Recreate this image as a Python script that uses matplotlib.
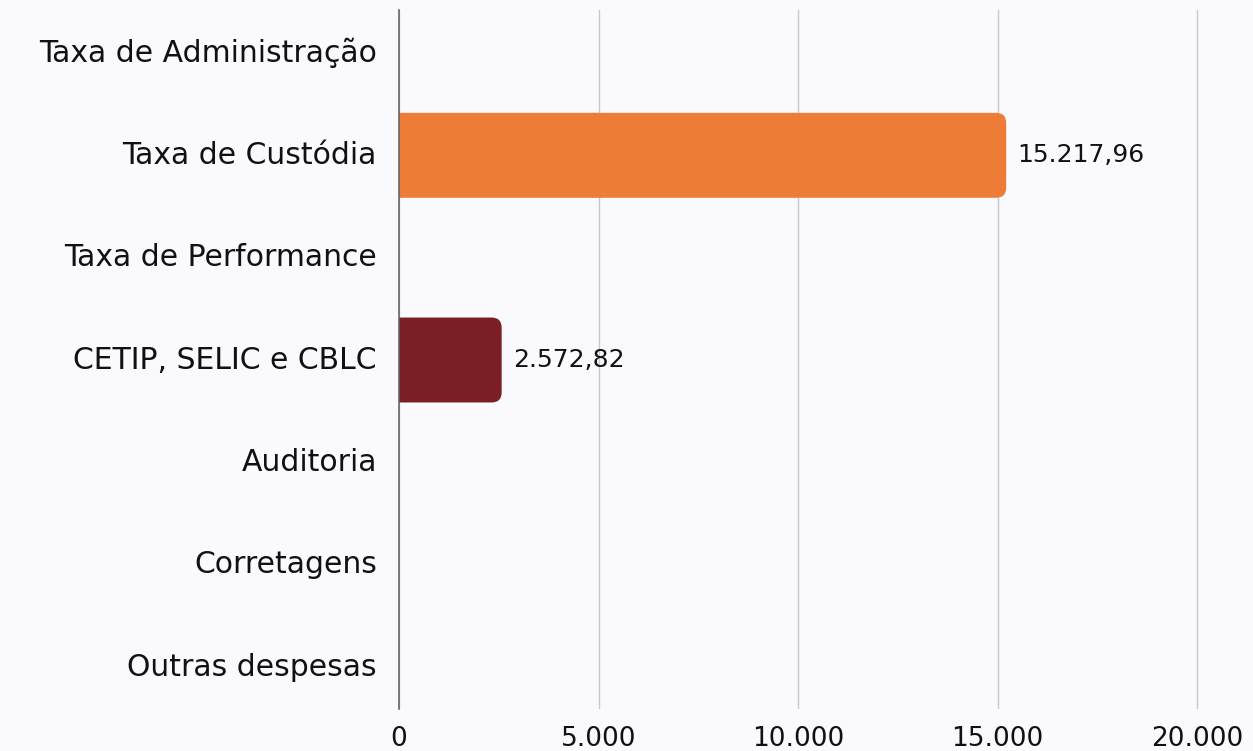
import matplotlib
matplotlib.use("Agg")
import matplotlib.pyplot as plt
from matplotlib.patches import FancyBboxPatch
from matplotlib.ticker import FuncFormatter
from matplotlib.transforms import ScaledTranslation

# Despesas do fundo (R$)
categories = [
    "Taxa de Administração",
    "Taxa de Custódia",
    "Taxa de Performance",
    "CETIP, SELIC e CBLC",
    "Auditoria",
    "Corretagens",
    "Outras despesas",
]
values = [0, 15217.96, 0, 2572.82, 0, 0, 0]
bar_colors = ["#ec7c36", "#ec7c36", "#ec7c36", "#7b1f24", "#7b1f24", "#7b1f24", "#7b1f24"]
x_ticks = [0, 5000, 10000, 15000, 20000]

BG = "#f9f9fe"
W, H = 1253, 751


def br_number(v, decimals=0):
    s = f"{v:,.{decimals}f}"
    return s.replace(",", "X").replace(".", ",").replace("X", ".")


# axes box in pixels (a few px past 20.000 so the last gridline is not clipped)
left_px, right_px, top_px, bottom_px = 399, 1200, 10, 709
xmin, xmax = 0, 20000 * (right_px - left_px) / (1197 - left_px)
ymin, ymax = 6.41, -0.42

fig = plt.figure(figsize=(W / 100, H / 100), dpi=100, facecolor=BG)
ax = fig.add_axes([left_px / W, 1 - bottom_px / H,
                   (right_px - left_px) / W, (bottom_px - top_px) / H])
ax.set_facecolor(BG)
ax.set_xlim(xmin, xmax)
ax.set_ylim(ymin, ymax)

# data units per pixel, so the rounded corners stay circular
x_per_px = (xmax - xmin) / (right_px - left_px)
y_per_px = abs(ymin - ymax) / (bottom_px - top_px)
aspect = y_per_px / x_per_px
r = 10 * x_per_px
bar_h = 0.83

for i, (v, c) in enumerate(zip(values, bar_colors)):
    if v <= 0:
        continue
    # start left of the axis; clipping hides the left rounded corners
    box = FancyBboxPatch((-2 * r, i - bar_h / 2), v + 2 * r, bar_h,
                         boxstyle=f"round,pad=0,rounding_size={r}",
                         mutation_aspect=aspect, facecolor=c, edgecolor="none", zorder=3)
    ax.add_patch(box)
    ax.annotate(br_number(v, 2), xy=(v, i), xytext=(8, 0), textcoords="offset points",
                ha="left", va="center", fontsize=18, color="#111111")

ax.set_yticks(range(len(categories)))
ax.set_yticklabels(categories)
ax.set_xticks(x_ticks)
ax.xaxis.set_major_formatter(FuncFormatter(lambda v, p: br_number(v)))

ax.tick_params(axis="y", length=0, pad=16, labelsize=21.5, labelcolor="#111111")
ax.tick_params(axis="x", length=0, pad=12, labelsize=19, labelcolor="#111111")

# nudge category labels up a little so they sit centred on the rows
nudge = ScaledTranslation(0, 3 / 100, fig.dpi_scale_trans)
for lbl in ax.get_yticklabels():
    lbl.set_transform(lbl.get_transform() + nudge)

ax.grid(axis="x", color="#c8c8cc", linewidth=1, zorder=0)
ax.set_axisbelow(True)
for side in ["top", "right", "bottom"]:
    ax.spines[side].set_visible(False)
ax.spines["left"].set_color("#666666")
ax.spines["left"].set_linewidth(1.2)
ax.spines["left"].set_zorder(4)

fig.savefig("out.png", dpi=100, facecolor=BG)
